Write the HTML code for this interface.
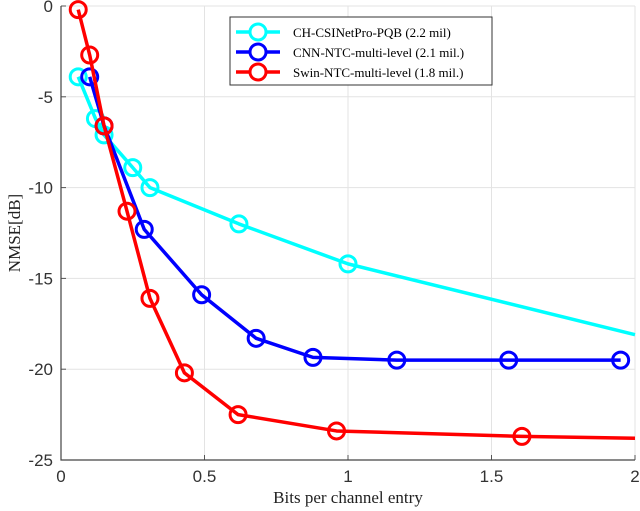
<!DOCTYPE html>
<html><head><meta charset="utf-8"><style>
body{margin:0;background:#fff}
svg{display:block}
.tk{font-family:"Liberation Sans",sans-serif;font-size:17px;fill:#333}
.lb{font-family:"Liberation Serif",serif;font-size:17px;fill:#222}
.lg{font-family:"Liberation Serif",serif;font-size:13px;fill:#000}
</style></head><body>
<svg id="c" width="640" height="511" viewBox="0 0 640 511" xmlns="http://www.w3.org/2000/svg">
<g id="grid"></g>
<g id="axes"></g>
<g id="series"></g>
<text class="lb" x="348" y="503" text-anchor="middle">Bits per channel entry</text>
<text class="lb" transform="translate(20,233) rotate(-90)" text-anchor="middle">NMSE[dB]</text>
<g id="legend"></g>
</svg>
<script>
const xTicks=[0,0.5,1,1.5,2];
const xTickLabels=["0","0.5","1","1.5","2"];
const yTicks=[0,-5,-10,-15,-20,-25];
const yTickLabels=["0","-5","-10","-15","-20","-25"];
const seriesNames=["CH-CSINetPro-PQB (2.2 mil)","CNN-NTC-multi-level (2.1 mil.)","Swin-NTC-multi-level (1.8 mil.)"];
const cyanX=[0.06,0.12,0.15,0.25,0.31,0.62,1.0,2.0];
const cyanY=[-3.9,-6.2,-7.1,-8.9,-10.0,-12.0,-14.2,-18.1];
const blueX=[0.1,0.15,0.29,0.49,0.68,0.878,1.17,1.56,1.95];
const blueY=[-3.9,-6.6,-12.3,-15.9,-18.3,-19.35,-19.5,-19.5,-19.5];
const redX=[0.06,0.1,0.15,0.23,0.31,0.43,0.617,0.96,1.606,2.0];
const redY=[-0.2,-2.7,-6.6,-11.3,-16.1,-20.2,-22.5,-23.4,-23.7,-23.8];
const markerCounts=[7,9,9];
const colors=["#00ffff","#0000ff","#ff0000"];
const X0=61,X1=635,Y0=6,Y1=460;
const sx=v=>X0+(v-0)/(2-0)*(X1-X0);
const sy=v=>Y0+(0-v)/25*(Y1-Y0);
const NS="http://www.w3.org/2000/svg";
function mk(t,a,p){const e=document.createElementNS(NS,t);for(const k in a)e.setAttribute(k,a[k]);p.appendChild(e);return e;}
const grid=document.getElementById('grid'),axes=document.getElementById('axes'),ser=document.getElementById('series'),leg=document.getElementById('legend');
xTicks.forEach((v,i)=>{
 const g=mk('line',{x1:sx(v),x2:sx(v),y1:Y0,y2:Y1,stroke:'#e3e3e3','stroke-width':1},grid);
 
 
 const t=mk('line',{x1:sx(v),x2:sx(v),y1:Y1,y2:Y1-5,stroke:'#555'},axes);
 
 
 const l=mk('text',{x:sx(v),y:Y1+22,'text-anchor':'middle',class:'tk'},axes);l.textContent=xTickLabels[i];
 
 
});
yTicks.forEach((v,i)=>{
 const g=mk('line',{x1:X0,x2:X1,y1:sy(v),y2:sy(v),stroke:'#e3e3e3','stroke-width':1},grid);
 
 
 const t=mk('line',{x1:X0,x2:X0+5,y1:sy(v),y2:sy(v),stroke:'#555'},axes);
 
 
 const l=mk('text',{x:X0-8,y:sy(v)+6,'text-anchor':'end',class:'tk'},axes);l.textContent=yTickLabels[i];
 
 
});
const ax=mk('path',{d:`M${X0},${Y0}V${Y1}H${X1}`,fill:'none',stroke:'#444','stroke-width':1.2},axes);


const data=[[cyanX,cyanY],[blueX,blueY],[redX,redY]];
const names=['cyan-series','blue-series','red-series'];
data.forEach((d,si)=>{
 const g=mk('g',{},ser);
 
 
 const pts=d[0].map((x,i)=>sx(x)+','+sy(d[1][i])).join(' ');
 const pl=mk('polyline',{points:pts,fill:'none',stroke:colors[si],'stroke-width':3.5,'stroke-linejoin':'round'},g);
 
 
 for(let i=0;i<markerCounts[si];i++){
  const c=mk('circle',{cx:sx(d[0][i]),cy:sy(d[1][i]),r:8,fill:'none',stroke:colors[si],'stroke-width':3},g);
  
  
 }
});
const box=mk('rect',{x:230,y:17,width:262,height:68,fill:'#fff',stroke:'#333','stroke-width':1},leg);


seriesNames.forEach((n,i)=>{
 const y=32+i*20;
 const g=mk('g',{},leg);
 
 
 mk('line',{x1:236,x2:280,y1:y,y2:y,stroke:colors[i],'stroke-width':3.5},g);
 mk('circle',{cx:258,cy:y,r:8,fill:'#fff',stroke:colors[i],'stroke-width':3},g);
 const t=mk('text',{x:293,y:y+5,class:'lg'},g);t.textContent=n;
});
</script>
</body></html>
